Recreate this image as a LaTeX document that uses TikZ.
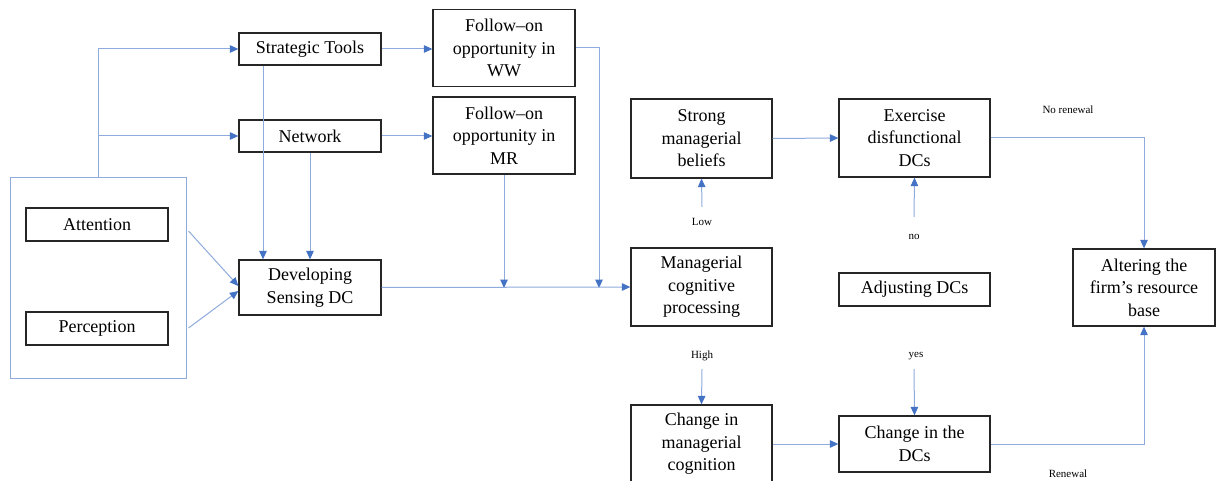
\documentclass[tikz,border=0pt]{standalone}
\usepackage{fontspec}
\setmainfont{Liberation Serif}
\usetikzlibrary{arrows.meta}
\definecolor{linkblue}{RGB}{143,170,220}
\definecolor{tipblue}{RGB}{68,114,196}
\definecolor{boxline}{RGB}{38,38,38}
\begin{document}
\begin{tikzpicture}[x=1pt,y=-1pt,
  box/.style={draw=boxline, line width=1.3pt, fill=white, align=center,
    inner sep=0pt, font=\fontsize{18}{22.5}\selectfont},
  link/.style={draw=linkblue, line width=1pt},
  arr/.style={link, -{Triangle[length=8.5pt,width=7.5pt,color=tipblue]}},
  lbl/.style={font=\fontsize{11}{13}\selectfont, inner sep=0pt}]
\useasboundingbox (0,0) rectangle (1217,481);

% cognitive inputs group
\node[draw=linkblue, line width=1pt, minimum width=176pt, minimum height=200pt, inner sep=0pt] (grp) at (98,278) {};
\node[box, minimum width=142pt, minimum height=33pt] (att) at (97,224.5) {Attention};
\node[box, minimum width=142pt, minimum height=33pt] (per) at (97,328.5) {Perception};

% sensing column
\node[box, minimum width=142pt, minimum height=32pt] (st) at (310,49) {Strategic Tools};
\node[box, minimum width=142pt, minimum height=32pt] (nw) at (310,136) {Network};
\node[box, minimum width=142pt, minimum height=55pt] (dsdc) at (310,287.5) {Developing\\Sensing DC};

\node[box, minimum width=142pt, minimum height=77pt] (ww) at (504,48) {Follow–on\\opportunity in\\WW};
\node[box, minimum width=142pt, minimum height=77pt] (mr) at (504,135.5) {Follow–on\\opportunity in\\MR};

% cognition column
\node[box, minimum width=141pt, minimum height=79pt] (smb) at (701.5,138.5) {Strong\\managerial\\beliefs};
\node[box, minimum width=141pt, minimum height=78pt] (mcp) at (701.5,287) {Managerial\\cognitive\\processing};
\node[box, minimum width=141pt, minimum height=78pt] (cmc) at (701.5,444) {Change in\\managerial\\cognition};

% capabilities column
\node[box, minimum width=151pt, minimum height=78pt] (edc) at (914.5,138) {Exercise\\disfunctional\\DCs};
\node[box, minimum width=151pt, minimum height=33pt] (adj) at (914.5,289.5) {Adjusting DCs};
\node[box, minimum width=151pt, minimum height=56pt] (cdc) at (914.5,444) {Change in the\\DCs};

\node[box, minimum width=142pt, minimum height=77pt] (alt) at (1144,287.5) {Altering the\\firm’s resource\\base};

% small labels
\node[lbl] (low) at (702,222) {Low};
\node[lbl] (high) at (702,356) {High};
\node[lbl] (no) at (914,237) {no};
\node[lbl] (yes) at (916,356) {yes};
\node[lbl] (norenew) at (1068,110) {No renewal};
\node[lbl] (renew) at (1068,474) {Renewal};

% junctions and free ends
\coordinate (j1) at (98,136);
\coordinate (m1) at (504,288);
\coordinate (m2) at (599,288);
\coordinate (lowtail) at (702,207);
\coordinate (hightail) at (702,369);
\coordinate (notail) at (914,217);
\coordinate (yestail) at (914,369);

% connectors
\draw[arr] (grp.north) |- (st.west);
\draw[arr] (j1) -- (nw.west);
\draw[arr] ([xshift=2pt,yshift=47pt]grp.east) -- ([yshift=1.5pt]dsdc.west);
\draw[arr] ([xshift=2pt,yshift=-50pt]grp.east) -- ([yshift=-3.5pt]dsdc.west);
\draw[arr] ([xshift=-47pt]st.south) -- ([xshift=-47pt]dsdc.north);
\draw[arr] (nw.south) -- (nw.south |- dsdc.north);
\draw[arr] (st.east) -- (st.east -| ww.west);
\draw[arr] (nw.east) -- (nw.east -| mr.west);
\draw[arr] (ww.east) -| (m2);
\draw[arr] (mr.south) -- (m1);
\draw[arr] (dsdc.east) -- (mcp.west);
\draw[arr] (smb.east) -- (edc.west);
\draw[arr] (lowtail) -- (smb.south);
\draw[arr] (hightail) -- (cmc.north);
\draw[arr] (notail) -- (edc.south);
\draw[arr] (yestail) -- (cdc.north);
\draw[arr] (cmc.east) -- (cdc.west);
\draw[arr] (edc.east) -| (alt.north);
\draw[arr] (cdc.east) -| (alt.south);
\end{tikzpicture}
\end{document}
